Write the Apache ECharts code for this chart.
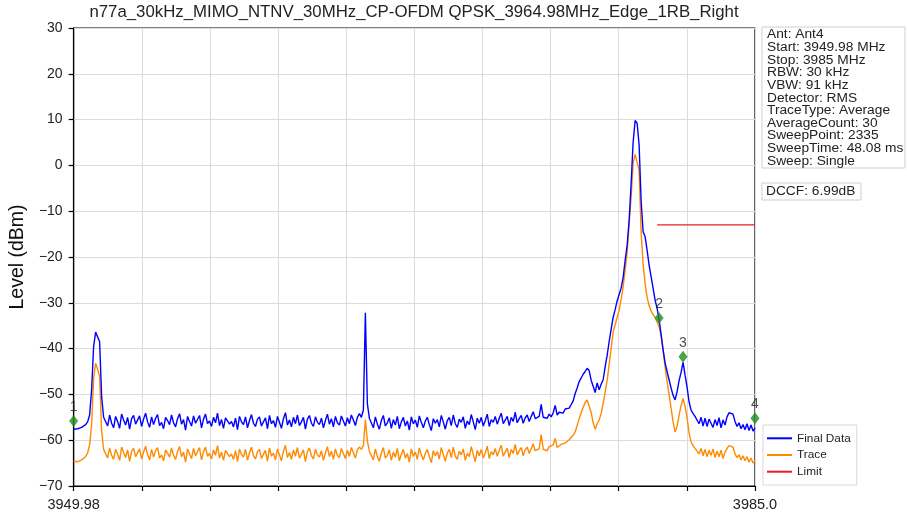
<!DOCTYPE html>
<html>
<head>
<meta charset="utf-8">
<script src="https://cdn.jsdelivr.net/npm/echarts@6/dist/echarts.min.js"></script>
<style>
html,body{margin:0;padding:0;background:#fff;}
#chart{width:907px;height:518px;}
</style>
</head>
<body>
<div id="chart"></div>
<script>
// ---- data ----
const chartTitle = 'n77a_30kHz_MIMO_NTNV_30MHz_CP-OFDM QPSK_3964.98MHz_Edge_1RB_Right';
const freqStart = 3949.98;
const freqStop = 3985.0;
const xTickLabels = ['3949.98', '3985.0'];
const levelMin = -70, levelMax = 30, levelStep = 10;

// Final Data (blue), one value per sweep sample, evenly spaced from start to stop
const finalData = [
  -57.6,-57.9,-57.5,-57.7,-57.2,-57.0,-56.6,-56.0,-54.5,-49.0,-39.5,-36.4,-36.2,-38.5,-50.5,-55.0,
  -54.9,-56.9,-54.5,-56.3,-57.3,-54.8,-55.9,-57.4,-54.3,-55.6,-56.7,-55.0,-57.6,-55.3,-54.6,-56.5,
  -56.4,-54.7,-57.0,-55.4,-54.1,-56.0,-57.2,-54.9,-56.6,-55.2,-54.4,-56.8,-56.1,-57.5,-55.0,-55.7,
  -56.6,-54.5,-56.2,-57.1,-55.3,-54.2,-56.5,-55.5,-57.8,-54.8,-55.9,-56.9,-54.7,-56.3,-56.7,-54.6,
  -57.3,-55.4,-54.3,-56.4,-55.8,-57.0,-55.0,-56.2,-54.1,-56.8,-55.5,-57.4,-55.1,-54.7,-56.5,-55.9,
  -57.1,-55.2,-57.7,-54.8,-56.0,-56.6,-54.9,-57.3,-55.7,-54.4,-56.3,-57.0,-55.4,-54.9,-56.9,-56.0,
  -55.1,-57.5,-54.6,-56.4,-55.7,-57.2,-54.8,-56.1,-57.4,-55.3,-54.0,-56.7,-55.6,-57.1,-55.0,-56.4,
  -54.5,-56.8,-56.0,-55.0,-57.6,-55.4,-54.6,-56.3,-57.0,-54.9,-56.1,-56.6,-55.2,-57.3,-55.7,-54.3,
  -56.5,-55.3,-57.1,-54.8,-56.2,-56.7,-54.7,-55.8,-56.9,-55.1,-56.4,-54.5,-55.6,-56.8,-55.0,-54.2,
  -55.0,-53.4,-32.2,-52.0,-55.2,
  -55.4,-57.3,-54.9,-56.5,-57.6,-55.7,-54.6,-56.9,-56.2,-55.1,-57.4,-55.5,-56.7,-54.8,-57.5,-56.0,
  -55.0,-56.9,-55.8,-57.8,-54.9,-56.4,-55.6,-57.2,-54.7,-56.1,-57.3,-55.8,-55.0,-56.6,-57.9,-55.3,
  -56.3,-55.5,-57.1,-54.6,-56.0,-57.6,-55.7,-55.0,-56.8,-54.5,-56.4,-57.2,-55.4,-56.1,-54.9,-57.4,
  -55.8,-56.6,-54.4,-56.0,-57.7,-55.2,-56.3,-55.0,-56.9,-55.7,-54.3,-57.0,-55.5,-56.1,-54.8,-56.5,
  -55.2,-54.1,-56.4,-55.6,-54.8,-56.8,-55.0,-55.9,-53.9,-56.2,-55.3,-54.6,-56.3,-55.1,-54.5,-55.9,
  -54.8,-53.8,-55.3,
  -55.6,
  -54.8,-52.2,-55.0,-54.6,-55.2,-54.3,-54.9,-54.0,-52.4,-54.5,-53.9,-53.6,-54.1,-53.2,-52.8,-53.0,
  -52.2,-51.4,-49.8,-48.6,-47.2,-46.8,-45.6,-45.0,-44.3,-44.8,-46.9,-48.2,-49.6,-47.5,-49.0,-47.8,
  -46.8,-44.0,-41.5,-38.5,-35.8,-33.2,-31.5,-29.6,-28.2,-26.8,-24.5,-20.8,-17.5,-12.0,-4.0,5.0,
  9.8,9.2,4.5,-7.6,-14.5,-15.6,-18.5,-21.8,-24.3,-26.8,-29.4,-31.2,-33.6,-36.9,-40.2,-43.1,
  -45.0,-46.8,-48.6,-50.2,-51.2,-49.4,-47.0,-45.2,-43.0,-45.8,-48.4,-51.6,-53.4,-54.2,-54.8,
  -54.6,-56.4,-55.0,-56.9,-55.2,-57.0,-55.4,-56.3,-57.2,-55.5,-56.8,-55.1,-57.3,-55.6,-56.7,-54.9,
  -54.0,-53.6,-54.3,-55.9,-57.0,-56.2,-57.5,-56.6,-57.7,-56.4,-57.9,-56.7,-58.0,-57.3
];

// Trace (orange)
const traceData = [
  -64.6,-64.9,-64.7,-64.8,-64.3,-64.0,-63.6,-62.8,-61.0,-56.5,-46.5,-43.2,-43.5,-46.0,-58.0,-62.0,
  -62.1,-63.9,-61.7,-63.3,-64.2,-62.0,-63.0,-64.4,-61.5,-62.7,-63.8,-62.1,-64.6,-62.4,-61.8,-63.6,
  -63.4,-61.9,-64.1,-62.6,-61.3,-63.1,-64.3,-62.0,-63.7,-62.3,-61.6,-63.9,-63.2,-64.5,-62.1,-62.8,
  -63.7,-61.7,-63.3,-64.2,-62.4,-61.4,-63.6,-62.6,-64.8,-61.9,-63.0,-64.0,-61.8,-63.4,-63.8,-61.6,
  -64.3,-62.5,-61.5,-63.5,-62.9,-64.1,-62.1,-63.3,-61.2,-63.9,-62.6,-64.4,-62.2,-61.8,-63.6,-63.0,
  -64.2,-62.3,-64.7,-61.9,-63.1,-63.7,-62.0,-64.4,-62.8,-61.5,-63.4,-64.1,-62.5,-62.0,-64.0,-63.1,
  -62.2,-64.6,-61.7,-63.5,-62.8,-64.3,-61.9,-63.2,-64.5,-62.4,-61.1,-63.8,-62.7,-64.2,-62.1,-63.5,
  -61.6,-63.9,-63.1,-62.1,-64.7,-62.5,-61.7,-63.4,-64.1,-62.0,-63.2,-63.7,-62.3,-64.4,-62.8,-61.4,
  -63.6,-62.4,-64.2,-61.9,-63.3,-63.8,-61.8,-62.9,-64.0,-62.2,-63.5,-61.6,-62.7,-63.9,-62.1,-61.5,
  -62.0,-61.2,-55.5,-60.2,-62.4,
  -62.4,-64.3,-61.9,-63.6,-64.6,-62.8,-61.6,-63.9,-63.3,-62.1,-64.4,-62.6,-63.7,-61.8,-64.5,-63.1,
  -62.0,-63.9,-62.9,-64.8,-61.9,-63.5,-62.6,-64.2,-61.7,-63.2,-64.3,-62.9,-62.0,-63.6,-64.9,-62.3,
  -63.4,-62.5,-64.1,-61.6,-63.1,-64.6,-62.8,-62.0,-63.8,-61.5,-63.5,-64.2,-62.4,-63.2,-61.9,-64.4,
  -62.9,-63.6,-61.4,-63.1,-64.7,-62.2,-63.4,-62.0,-63.9,-62.8,-61.3,-64.0,-62.5,-63.2,-61.8,-63.5,
  -62.2,-61.1,-63.5,-62.6,-61.8,-63.8,-62.0,-62.9,-60.9,-63.2,-62.3,-61.6,-63.4,-62.1,-61.5,-62.9,
  -61.8,-60.8,-62.3,
  -62.6,
  -61.9,-58.8,-62.0,-61.6,-62.3,-61.4,-61.8,-61.0,-59.6,-61.6,-61.3,-60.9,-61.2,-60.6,-60.2,-59.9,
  -59.4,-58.9,-58.2,-56.8,-55.3,-54.0,-52.8,-51.8,-51.2,-51.6,-53.9,-56.2,-57.6,-56.4,-55.6,-54.2,
  -52.0,-49.5,-47.0,-43.5,-40.0,-36.4,-34.8,-33.2,-31.6,-29.2,-26.5,-23.0,-19.0,-13.0,-7.0,0.5,
  2.4,2.2,-1.0,-14.5,-21.5,-25.8,-28.8,-30.6,-31.8,-32.6,-33.2,-34.2,-35.2,-37.2,-40.5,-44.0,
  -47.2,-50.0,-53.0,-56.0,-58.2,-57.0,-54.6,-52.4,-50.9,-52.6,-55.0,-58.4,-60.4,-61.2,-61.8,
  -61.5,-63.0,-61.8,-63.4,-62.0,-63.6,-62.2,-63.3,-61.9,-63.8,-62.4,-63.6,-62.2,-64.0,-62.6,-61.8,
  -61.2,-60.8,-61.5,-63.0,-63.8,-63.2,-64.3,-63.4,-64.5,-63.6,-64.8,-63.9,-65.0,-64.4
];

const limitFreqs = [3979.97, 3985.0];
const limitLevels = [-13, -13];

const markerLabels = ['1', '2', '3', '4'];
const markerFreqs = [3949.98, 3980.07, 3981.30, 3985.0];
const markerLevels = [-55.8, -33.3, -41.8, -55.2];

const infoLines = [
  'Ant: Ant4',
  'Start: 3949.98 MHz',
  'Stop: 3985 MHz',
  'RBW: 30 kHz',
  'VBW: 91 kHz',
  'Detector: RMS',
  'TraceType: Average',
  'AverageCount: 30',
  'SweepPoint: 2335',
  'SweepTime: 48.08 ms',
  'Sweep: Single'
];
const dccfText = 'DCCF: 6.99dB';
const legendNames = ['Final Data', 'Trace', 'Limit'];

// ---- build ----
const span = freqStop - freqStart;
const nPts = finalData.length;
const step = span / (nPts - 1);
const toPairs = arr => arr.map((v, i) => [i * step, v]);
const FONT = '"Liberation Sans", Arial, sans-serif';
const minus = v => String(v).replace('-', '\u2212');

const chart = echarts.init(document.getElementById('chart'), null, {renderer: 'canvas'});
const option = {
  backgroundColor: '#ffffff',
  animation: false,
  textStyle: {fontFamily: FONT},
  grid: {left: 73, right: 152, top: 28, bottom: 32, show: true, borderColor: '#000', borderWidth: 1.2, backgroundColor: 'transparent'},
  xAxis: {
    type: 'value', min: 0, max: span, interval: span / 10,
    axisLine: {show: true, onZero: false, lineStyle: {color: '#000', width: 1.2}},
    axisTick: {show: true, inside: false, length: 5, lineStyle: {color: '#000', width: 1.2}},
    axisLabel: {
      show: true, margin: 11, fontSize: 14.5, color: '#222', fontFamily: FONT,
      showMinLabel: true, showMaxLabel: true,
      formatter: v => Math.abs(v) < 1e-6 ? xTickLabels[0] : (Math.abs(v - span) < 1e-6 ? xTickLabels[1] : '')
    },
    splitLine: {show: true, lineStyle: {color: '#dcdcdc', width: 1}}
  },
  yAxis: {
    type: 'value', min: levelMin, max: levelMax, interval: levelStep,
    name: 'Level (dBm)', nameLocation: 'middle', nameGap: 43, nameRotate: 90,
    nameTextStyle: {fontSize: 19.5, color: '#111', fontFamily: FONT},
    axisLine: {show: true, onZero: false, lineStyle: {color: '#000', width: 1.2}},
    axisTick: {show: true, inside: false, length: 5, lineStyle: {color: '#000', width: 1.2}},
    axisLabel: {margin: 11, fontSize: 14, color: '#222', fontFamily: FONT, formatter: minus},
    splitLine: {show: true, lineStyle: {color: '#dcdcdc', width: 1}}
  },
  legend: {
    data: legendNames, orient: 'vertical', left: 763, top: 425,
    icon: 'rect', itemWidth: 25, itemHeight: 2, itemGap: 2.7,
    backgroundColor: '#fff', borderColor: '#d8d8d8', borderWidth: 1, padding: [6.3, 6, 6.3, 4],
    textStyle: {fontSize: 11.8, lineHeight: 14, color: '#222', fontFamily: FONT}
  },
  series: [
    {name: 'Final Data', type: 'line', data: toPairs(finalData), showSymbol: false, symbol: 'none',
     lineStyle: {color: '#0000ff', width: 1.4}, itemStyle: {color: '#0000ff'}, z: 3},
    {name: 'Trace', type: 'line', data: toPairs(traceData), showSymbol: false, symbol: 'none',
     lineStyle: {color: '#ff8a00', width: 1.4}, itemStyle: {color: '#ff8a00'}, z: 2},
    {name: 'Limit', type: 'line', data: limitFreqs.map((f, i) => [f - freqStart, limitLevels[i]]),
     showSymbol: false, symbol: 'none', lineStyle: {color: '#ee1c25', width: 1.3}, itemStyle: {color: '#ee1c25'}, z: 4},
    {name: 'Markers', type: 'scatter', symbol: 'diamond', symbolSize: [9, 12],
     data: markerFreqs.map((f, i) => ({value: [f - freqStart, markerLevels[i]], label: {formatter: markerLabels[i]}})),
     itemStyle: {color: '#1e8c1e'},
     label: {show: true, position: 'top', distance: 1, fontSize: 14, color: '#222', fontFamily: FONT},
     z: 5}
  ],
  graphic: [
    {type: 'text', x: 414, y: 12, z: 10,
     style: {text: chartTitle, x: 0, y: 0, fontSize: 16.8, fontFamily: FONT, fill: '#222', align: 'center', verticalAlign: 'middle'}},
    {type: 'rect', x: 762, y: 27, z: 10, shape: {x: 0, y: 0, width: 143, height: 141},
     style: {fill: '#fff', stroke: '#cfcfcf', lineWidth: 1}},
    {type: 'text', x: 767, y: 28.5, z: 11, scaleX: 1.1,
     style: {text: infoLines.join('\n'), fontSize: 12.5, lineHeight: 12.65, fontFamily: FONT, fill: '#222'}},
    {type: 'rect', x: 762, y: 183, z: 10, shape: {x: 0, y: 0, width: 99, height: 17},
     style: {fill: '#fff', stroke: '#cfcfcf', lineWidth: 1}},
    {type: 'text', x: 766, y: 185, z: 11, scaleX: 1.1,
     style: {text: dccfText, fontSize: 12.5, lineHeight: 13, fontFamily: FONT, fill: '#222'}}
  ]
};
chart.setOption(option);
</script>
</body>
</html>
